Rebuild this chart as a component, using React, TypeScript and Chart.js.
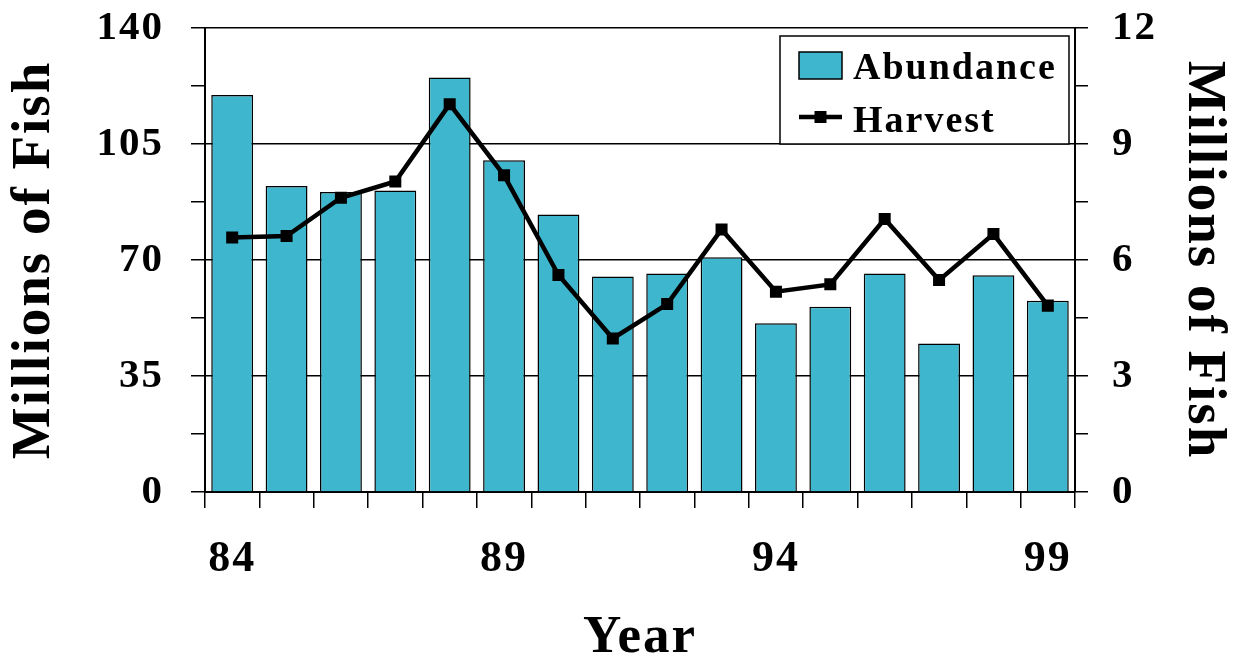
import React, { useEffect, useRef } from "react";
import { Chart, registerables } from "chart.js";

Chart.register(...registerables);

// Survey years (two-digit), every fifth one is labelled on the axis
const years = ["84", "85", "86", "87", "88", "89", "90", "91", "92", "93", "94", "95", "96", "97", "98", "99"];
// Abundance, millions of fish (left axis)
const abundance = [119.8, 92.3, 90.5, 91.0, 125.1, 100.1, 83.7, 65.0, 65.9, 70.8, 50.9, 55.9, 65.9, 44.8, 65.4, 57.7];
// Harvest, millions of fish (right axis)
const harvest = [6.58, 6.62, 7.61, 8.03, 10.03, 8.19, 5.61, 3.97, 4.86, 6.79, 5.18, 5.37, 7.06, 5.48, 6.67, 4.82];

const leftMax = 140;
const leftStep = 17.5;
const leftLabelStep = 35;
const rightMax = 12;
const rightStep = 1.5;
const rightLabelStep = 3;

const FONT = "'Liberation Serif', 'Times New Roman', serif";
const BAR_COLOR = "rgb(62,183,206)";

// Spread the letters a little, like the original typesetting
const spacingPlugin = {
  id: "letterSpacing",
  beforeDraw(chart: any) {
    (chart.ctx as any).letterSpacing = "2px";
  },
};

// Boxed legend drawn in the upper right corner of the plot
const boxLegendPlugin = {
  id: "boxLegend",
  afterDatasetsDraw(chart: any) {
    const { ctx, chartArea, scales } = chart;
    const right = chartArea.right - 6;
    const left = right - 289;
    const top = chartArea.top + 8;
    const bottom = scales.y.getPixelForValue(105);
    ctx.save();
    ctx.fillStyle = "#fff";
    ctx.fillRect(left, top, right - left, bottom - top);
    ctx.strokeStyle = "#000";
    ctx.lineWidth = 1.5;
    ctx.strokeRect(left, top, right - left, bottom - top);

    const bars = chart.data.datasets[1];
    const line = chart.data.datasets[0];
    const sx = left + 19;
    const sw = 43;
    const tx = left + 73;
    ctx.font = `bold 38px ${FONT}`;
    ctx.textAlign = "left";
    ctx.textBaseline = "alphabetic";

    // bar swatch
    ctx.fillStyle = bars.backgroundColor;
    ctx.fillRect(sx, top + 16, sw, 27);
    ctx.lineWidth = 1.5;
    ctx.strokeStyle = "#000";
    ctx.strokeRect(sx, top + 16, sw, 27);
    ctx.fillStyle = "#000";
    ctx.fillText(bars.label, tx, top + 43);

    // line swatch with marker
    const ly = top + 81;
    ctx.beginPath();
    ctx.moveTo(sx, ly);
    ctx.lineTo(sx + sw, ly);
    ctx.lineWidth = 4.5;
    ctx.stroke();
    ctx.fillRect(sx + sw / 2 - 6, ly - 6, 12, 12);
    ctx.fillText(line.label, tx, top + 96);
    ctx.restore();
  },
};

// Fixed axis sizes; label overhang should not push the plot area
const fixVertical = (w: number) => (s: any) => {
  s.width = w;
  s.paddingTop = 0;
  s.paddingBottom = 0;
};

export default function App() {
  const canvasRef = useRef<HTMLCanvasElement | null>(null);

  useEffect(() => {
    if (!canvasRef.current) return;
    const chart = new Chart(canvasRef.current, {
      type: "bar",
      data: {
        labels: years,
        datasets: [
          {
            type: "line",
            label: "Harvest",
            data: harvest,
            yAxisID: "y2",
            borderColor: "#000",
            borderWidth: 4.5,
            tension: 0,
            pointStyle: "rect",
            pointRadius: 8.5,
            pointBackgroundColor: "#000",
            pointBorderWidth: 0,
            order: 0,
          } as any,
          {
            type: "bar",
            label: "Abundance",
            data: abundance,
            yAxisID: "y",
            backgroundColor: BAR_COLOR,
            borderColor: "#000",
            borderWidth: 1.5,
            barPercentage: 0.77,
            categoryPercentage: 1,
            order: 1,
          },
        ],
      },
      options: {
        responsive: false,
        animation: false,
        layout: { padding: { top: 28, left: 0, right: 0, bottom: 0 } },
        plugins: {
          legend: { display: false },
          tooltip: { enabled: false },
        },
        scales: {
          x: {
            offset: true,
            grid: {
              offset: true,
              drawOnChartArea: false,
              color: "#000",
              tickColor: "#000",
              tickLength: 16,
              lineWidth: 1.5,
            },
            border: { display: true, color: "#000", width: 2 },
            ticks: {
              autoSkip: false,
              maxRotation: 0,
              padding: 25,
              color: "#000",
              font: { family: FONT, size: 44, weight: "bold" },
              callback: (_v: any, i: number) => (i % 5 === 0 ? years[i] : ""),
            },
            title: {
              display: true,
              text: "Year",
              color: "#000",
              font: { family: FONT, size: 53, weight: "bold", lineHeight: 1 },
              padding: { top: 0, bottom: 2 },
            },
            afterFit: (s: any) => {
              s.height = 175;
              s.paddingLeft = 0;
              s.paddingRight = 0;
            },
          },
          y: {
            position: "left",
            min: 0,
            max: leftMax,
            grid: {
              color: (c: any) => (c.tick && c.tick.value % leftLabelStep === 0 ? "#000" : "rgba(0,0,0,0)"),
              tickColor: "#000",
              tickLength: 14,
              lineWidth: 1.5,
            },
            border: { display: true, color: "#000", width: 2 },
            ticks: {
              stepSize: leftStep,
              padding: 27,
              color: "#000",
              font: { family: FONT, size: 41, weight: "bold" },
              callback: (v: any) => (Number(v) % leftLabelStep === 0 ? String(v) : ""),
            },
            title: {
              display: true,
              text: "Millions of Fish",
              color: "#000",
              font: { family: FONT, size: 55, weight: "bold", lineHeight: 1 },
              padding: { top: 7, bottom: 0 },
            },
            afterFit: fixVertical(205),
          },
          y2: {
            position: "right",
            min: 0,
            max: rightMax,
            grid: {
              drawOnChartArea: false,
              color: "#000",
              tickColor: "#000",
              tickLength: 13,
              lineWidth: 1.5,
            },
            border: { display: true, color: "#000", width: 2 },
            ticks: {
              stepSize: rightStep,
              padding: 24,
              color: "#000",
              font: { family: FONT, size: 41, weight: "bold" },
              callback: (v: any) => (Number(v) % rightLabelStep === 0 ? String(v) : ""),
            },
            title: {
              display: true,
              text: "Millions of Fish",
              color: "#000",
              font: { family: FONT, size: 55, weight: "bold", lineHeight: 1 },
              padding: { top: 3, bottom: 0 },
            },
            afterFit: fixVertical(159),
          },
        },
      },
      plugins: [spacingPlugin, boxLegendPlugin],
    });
    return () => chart.destroy();
  }, []);

  return (
    <div style={{ position: "fixed", left: 0, top: 0, width: 1234, height: 667, background: "#fff" }}>
      <canvas ref={canvasRef} width={1234} height={667} />
    </div>
  );
}
